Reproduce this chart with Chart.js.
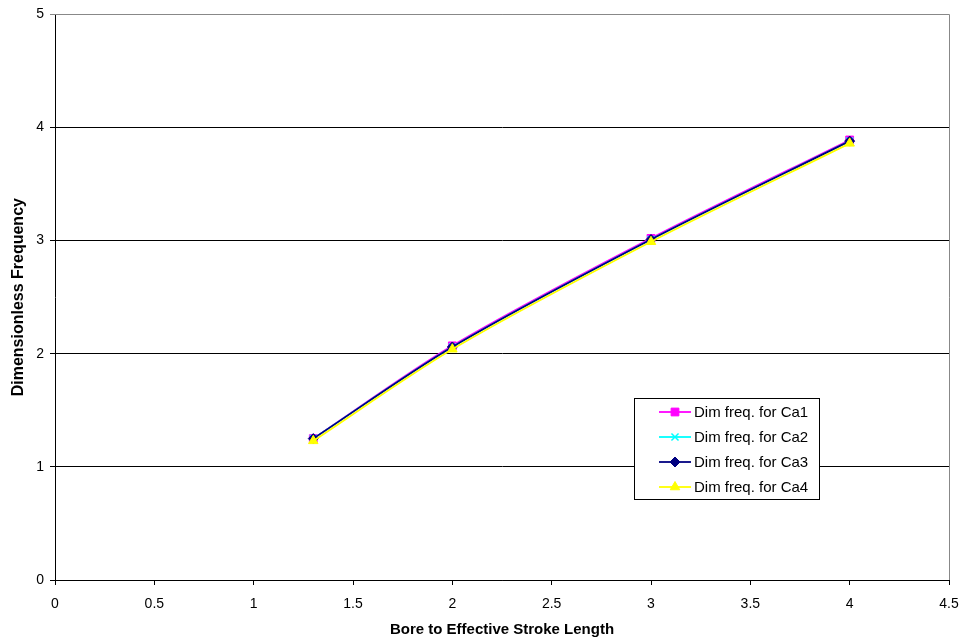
<html>
  <head>
    <script src="https://cdn.jsdelivr.net/npm/chart.js"></script>
    <meta charset="UTF-8" />
    <style>
      body { margin: 0; background: #fff; }
    </style>
  </head>
  <body>
    <canvas id="myChart" width="965" height="641"></canvas>
    <script>
      const ratios = [1.3, 2, 3, 4];
      const ca1 = [1.25, 2.07, 3.02, 3.89];
      const ca2 = [1.25, 2.06, 3.01, 3.88];
      const ca3 = [1.25, 2.06, 3.01, 3.88];
      const ca4 = [1.23, 2.04, 2.99, 3.86];
      const seriesNames = [
        "Dim freq. for Ca1",
        "Dim freq. for Ca2",
        "Dim freq. for Ca3",
        "Dim freq. for Ca4",
      ];

      const FONT = "Arial, 'Liberation Sans', sans-serif";

      function points(ys) {
        return ratios.map((x, i) => ({ x: x, y: ys[i] }));
      }

      const styles = [
        { color: "#ff00ff", point: "rect", radius: 5.5 },
        { color: "#00ffff", point: "crossRot", radius: 5 },
        { color: "#000080", point: "rectRot", radius: 5 },
        { color: "#ffff00", point: "triangle", radius: 5.5 },
      ];

      const datasets = [ca1, ca2, ca3, ca4].map((ys, i) => ({
        label: seriesNames[i],
        data: points(ys),
        borderColor: styles[i].color,
        backgroundColor: styles[i].color,
        pointBackgroundColor: styles[i].color,
        pointBorderColor: styles[i].color,
        pointStyle: styles[i].point,
        pointRadius: styles[i].radius,
        pointBorderWidth: i == 1 ? 1.5 : 1,
        borderWidth: 1.8,
        tension: 0.3,
        order: 3 - i,
      }));

      // plot border (grey top / right) and the boxed legend inside the plot
      const boxPlugin = {
        id: "boxLegend",
        afterDraw(chart) {
          const ctx = chart.ctx;
          const a = chart.chartArea;
          ctx.save();
          ctx.strokeStyle = "#888888";
          ctx.lineWidth = 1;
          ctx.beginPath();
          ctx.moveTo(a.left, Math.round(a.top) + 0.5);
          ctx.lineTo(Math.round(a.right) + 0.5, Math.round(a.top) + 0.5);
          ctx.lineTo(Math.round(a.right) + 0.5, a.bottom);
          ctx.stroke();

          // legend box
          const bx = 634.5, by = 398.5, bw = 185, bh = 101;
          ctx.fillStyle = "#ffffff";
          ctx.fillRect(bx, by, bw, bh);
          ctx.strokeStyle = "#000000";
          ctx.strokeRect(bx, by, bw, bh);
          ctx.font = "15px " + FONT;
          ctx.textBaseline = "middle";
          ctx.textAlign = "left";
          seriesNames.forEach((name, i) => {
            const y = 412 + i * 25;
            ctx.strokeStyle = styles[i].color;
            ctx.lineWidth = 1.8;
            ctx.beginPath();
            ctx.moveTo(659, y);
            ctx.lineTo(691, y);
            ctx.stroke();
            ctx.fillStyle = styles[i].color;
            ctx.lineWidth = i == 1 ? 1.5 : 1;
            Chart.helpers.drawPoint(
              ctx,
              { pointStyle: styles[i].point, radius: styles[i].radius, borderWidth: 1, rotation: 0 },
              675,
              y
            );
            ctx.fillStyle = "#000000";
            ctx.fillText(name, 694, y + 1);
          });
          ctx.restore();
        },
      };

      const config = {
        type: "line",
        data: { datasets: datasets },
        plugins: [boxPlugin],
        options: {
          responsive: false,
          animation: false,
          layout: { padding: { top: 14, right: 16, left: 0, bottom: 0 } },
          plugins: {
            legend: { display: false },
            tooltip: { enabled: false },
          },
          scales: {
            x: {
              type: "linear",
              min: 0,
              max: 4.5,
              afterFit: scale => {
                scale.height = 61;
                scale.paddingLeft = 0;
                scale.paddingRight = 0;
              },
              ticks: {
                stepSize: 0.5,
                color: "#000",
                padding: 11,
                maxRotation: 0,
                font: { family: FONT, size: 14 },
                callback: v => String(v),
              },
              grid: {
                drawOnChartArea: false,
                color: "#000",
                tickLength: 5,
              },
              border: { color: "#000", width: 1 },
              title: {
                display: true,
                text: "Bore to Effective Stroke Length",
                color: "#000",
                font: { family: FONT, size: 15, weight: "bold" },
                padding: { top: 0, bottom: 2 },
              },
            },
            y: {
              min: 0,
              max: 5,
              afterFit: scale => { scale.width = 55; },
              ticks: {
                stepSize: 1,
                color: "#000",
                padding: 6,
                font: { family: FONT, size: 14 },
                callback: v => String(v),
              },
              grid: {
                color: c => (c.tick && c.tick.value === 5 ? "#888888" : "#000"),
                tickLength: 5,
              },
              border: { color: "#000", width: 1 },
              title: {
                display: true,
                text: "Dimensionless Frequency",
                color: "#000",
                font: { family: FONT, size: 16, weight: "bold" },
                padding: { top: 9, bottom: 0 },
              },
            },
          },
        },
      };

      new Chart(document.getElementById("myChart"), config);
    </script>
  </body>
</html>
